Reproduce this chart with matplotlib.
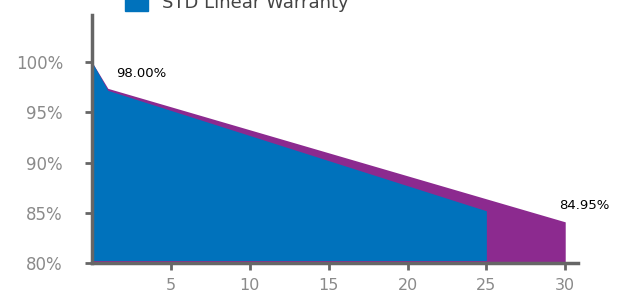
import matplotlib
matplotlib.use("Agg")
import matplotlib.pyplot as plt

# values as drawn in the reference
years_ext = [0, 1, 30]
extended_pct = [100.0, 97.4, 84.1]
years_std = [0, 1, 25]
std_pct = [100.0, 97.2, 85.2]
label_first = "98.00%"
label_last = "84.95%"
legend_label = "STD Linear Warranty"
y_ticks = [80, 85, 90, 95, 100]
x_ticks = [5, 10, 15, 20, 25, 30]

blue = "#0072bc"
purple = "#8c2a8f"
axis_grey = "#666666"
text_grey = "#8a8a8a"

fig = plt.figure(figsize=(6.18, 2.96), dpi=100)
ax = fig.add_axes([0.149, 0.1115, 0.786, 0.8375])

ax.fill_between(years_ext, extended_pct, 80, color=purple, linewidth=0)
ax.fill_between(years_std, std_pct, 80.25, color=blue, linewidth=0)

ax.set_xlim(0, 30.8)
ax.set_ylim(80, 104.7)

ax.set_yticks(y_ticks)
ax.set_yticklabels([f"{v}%" for v in y_ticks])
ax.set_xticks(x_ticks)

for side in ("top", "right"):
    ax.spines[side].set_visible(False)
for side in ("left", "bottom"):
    ax.spines[side].set_color(axis_grey)
    ax.spines[side].set_linewidth(2.5)

ax.tick_params(axis="both", colors=axis_grey, width=2, length=5,
               labelcolor=text_grey)
ax.tick_params(axis="x", pad=6, labelsize=11.5)
ax.tick_params(axis="y", pad=16, labelsize=12)

ax.text(1.5, 98.5, label_first, fontsize=9.5, color="black")
ax.text(29.6, 85.4, label_last, fontsize=9.5, color="black")

# legend swatch and label, cut by the top edge as in the reference
fig.patches.append(plt.Rectangle((125 / 618, 1 - 11 / 296), 23 / 618, 20 / 296,
                                 transform=fig.transFigure, color=blue,
                                 clip_on=False))
fig.text(162 / 618, 1 - 8 / 296, legend_label, fontsize=13, color="#444444",
         va="baseline")

fig.savefig("out.png", dpi=100)
